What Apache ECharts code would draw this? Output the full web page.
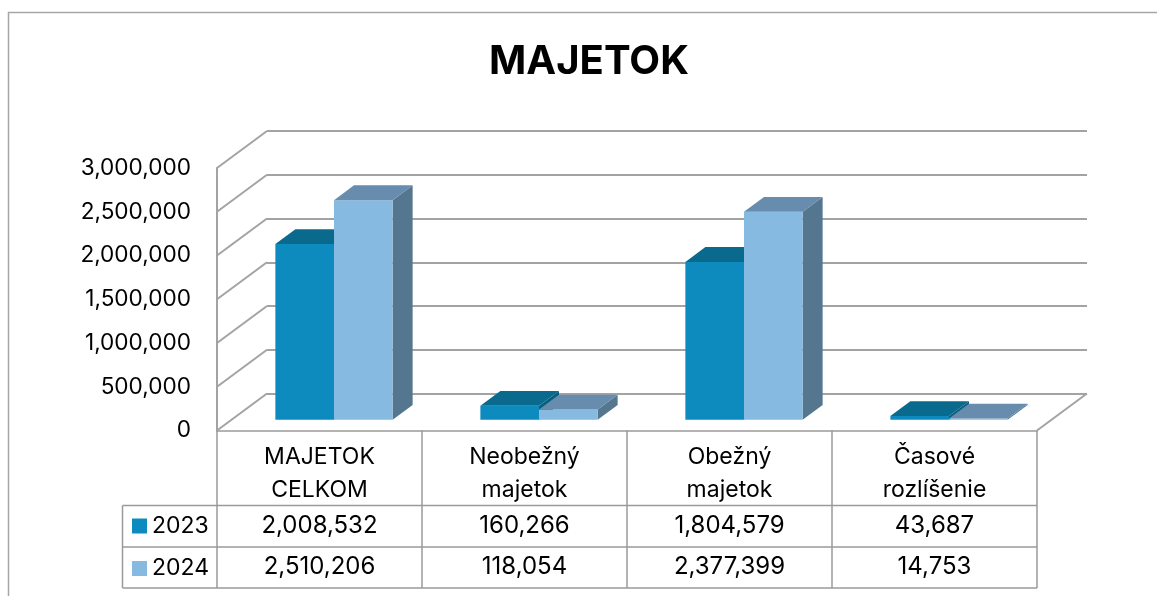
<!DOCTYPE html>
<html>
<head>
<meta charset="utf-8">
<script src="https://cdn.jsdelivr.net/npm/echarts@6/dist/echarts.min.js"></script>
<style>
html,body{margin:0;padding:0;background:#fff;}
#chart{width:1157px;height:596px;}
</style>
</head>
<body>
<div id="chart"></div>
<script>
// data
const categories = ["MAJETOK\nCELKOM", "Neobežný\nmajetok", "Obežný\nmajetok", "Časové\nrozlíšenie"];
const years = ["2023", "2024"];
const values2023 = [2008532, 160266, 1804579, 43687];
const values2024 = [2510206, 118054, 2377399, 14753];
const yTicks = [0, 500000, 1000000, 1500000, 2000000, 2500000, 3000000];

const FONT = "Inter";
const GRID_COLOR = "#a3a3a3";
const TABLE_COLOR = "#9a9a9a";
// perspective shift of the back wall and of the bars
const WALL_DX = 50, WALL_DY = -37;
const BAR_DX = 14.5, BAR_DY = -10.7;
const DEPTH_DX = 20, DEPTH_DY = -14.8;

const palette = [
    {front:"#0e8bbe", top:"#0a6a8e", side:"#06607f"},
    {front:"#87bae0", top:"#678cad", side:"#54778f"}
];

const fmt = v => Number(v).toLocaleString("en-US");

const chart = echarts.init(document.getElementById("chart"));

function barItem(seriesIdx){
    return function(params, api){
        const cat = api.value(0);
        const v = api.value(1);
        const base = api.coord([cat, 0]);
        const top = api.coord([cat, v]);
        const band = api.size([1, 0])[0];
        const bw = band * 0.286;
        const x0 = (seriesIdx === 0 ? base[0] - bw : base[0]) + BAR_DX;
        const x1 = x0 + bw;
        const yb = base[1] + BAR_DY;
        const yt = top[1] + BAR_DY;
        const c = palette[seriesIdx];
        return {
            type:"group",
            children:[
                {type:"polygon", shape:{points:[[x1,yb],[x1,yt],[x1+DEPTH_DX,yt+DEPTH_DY],[x1+DEPTH_DX,yb+DEPTH_DY]]}, style:{fill:c.side}},
                {type:"rect", shape:{x:x0, y:yt, width:bw, height:yb-yt}, style:{fill:c.front}},
                {type:"polygon", shape:{points:[[x0,yt],[x1,yt],[x1+DEPTH_DX,yt+DEPTH_DY],[x0+DEPTH_DX,yt+DEPTH_DY]]}, style:{fill:c.top}}
            ]
        };
    };
}

chart.setOption({
    animation:false,
    textStyle:{fontFamily:FONT},
    legend:{
        orient:"vertical",
        left:132,
        top:514.5,
        padding:0,
        itemWidth:15,
        itemHeight:15,
        itemGap:19.5,
        icon:"rect",
        selectedMode:false,
        textStyle:{fontFamily:FONT, fontSize:23, lineHeight:22, color:"#000"},
        data:years
    },
    grid:[
        {left:217, right:120, top:168, height:262.5, containLabel:false},
        {left:217 + WALL_DX, right:120 - WALL_DX, top:168 + WALL_DY, height:262.5, containLabel:false}
    ],
    xAxis:[
        {
            type:"category",
            gridIndex:0,
            data:categories,
            axisLine:{show:true, lineStyle:{color:TABLE_COLOR, width:1.5}},
            axisTick:{show:true, length:157.5, lineStyle:{color:TABLE_COLOR, width:1.5}},
            axisLabel:{margin:10, fontFamily:FONT, fontSize:23, lineHeight:33, color:"#000"},
            splitLine:{show:false}
        },
        {
            type:"category",
            gridIndex:1,
            data:categories,
            show:false
        }
    ],
    yAxis:[
        {
            type:"value",
            gridIndex:0,
            min:0, max:3000000, interval:500000,
            axisLine:{show:true, lineStyle:{color:GRID_COLOR, width:2}},
            axisTick:{show:false},
            splitLine:{show:false},
            axisLabel:{margin:26, fontFamily:FONT, fontSize:22.6, color:"#000", formatter:fmt}
        },
        {
            type:"value",
            gridIndex:1,
            min:0, max:3000000, interval:500000,
            axisLine:{show:false},
            axisTick:{show:false},
            axisLabel:{show:false},
            splitLine:{show:true, lineStyle:{color:GRID_COLOR, width:2}}
        }
    ],
    graphic:[
        {type:"rect", shape:{x:8.5, y:12.5, width:1200, height:700}, style:{fill:"none", stroke:"#a6a6a6", lineWidth:1.5}, silent:true},
        {type:"text", x:589, y:62, style:{text:"MAJETOK", fontFamily:FONT, fontWeight:"bold", fontSize:40, fill:"#000", textAlign:"center", textVerticalAlign:"middle"}},
        {type:"line", shape:{x1:122.5, y1:505.5, x2:1037, y2:505.5}, style:{stroke:TABLE_COLOR, lineWidth:1.5}},
        {type:"line", shape:{x1:122.5, y1:547, x2:1037, y2:547}, style:{stroke:TABLE_COLOR, lineWidth:1.5}},
        {type:"line", shape:{x1:122.5, y1:588, x2:1037, y2:588}, style:{stroke:TABLE_COLOR, lineWidth:1.5}},
        {type:"line", shape:{x1:122.5, y1:505.5, x2:122.5, y2:588}, style:{stroke:TABLE_COLOR, lineWidth:1.5}}
    ],
    series:[
        {
            // side wall diagonals and the floor edge on the right
            type:"custom",
            name:"walls",
            xAxisIndex:0, yAxisIndex:0,
            silent:true,
            data:yTicks.map(v => [0, v]),
            renderItem(params, api){
                const v = api.value(1);
                const p = api.coord([0, v]);
                const half = api.size([1, 0])[0] / 2;
                const x = p[0] - half;
                const lines = [{type:"line", shape:{x1:x, y1:p[1], x2:x + WALL_DX, y2:p[1] + WALL_DY}, style:{stroke:GRID_COLOR, lineWidth:2}}];
                if(v === 0){
                    const r = api.coord([categories.length - 1, 0]);
                    const xr = r[0] + half;
                    lines.push({type:"line", shape:{x1:xr, y1:r[1], x2:xr + WALL_DX, y2:r[1] + WALL_DY}, style:{stroke:GRID_COLOR, lineWidth:2}});
                }
                return {type:"group", children:lines};
            },
            z:1
        },
        {
            type:"custom",
            name:years[0],
            xAxisIndex:0, yAxisIndex:0,
            itemStyle:{color:palette[0].front},
            data:values2023.map((v, i) => [i, v]),
            renderItem:barItem(0),
            z:3
        },
        {
            type:"custom",
            name:years[1],
            xAxisIndex:0, yAxisIndex:0,
            itemStyle:{color:palette[1].front},
            data:values2024.map((v, i) => [i, v]),
            renderItem:barItem(1),
            z:4
        },
        {
            // values of the data table
            type:"custom",
            name:"table",
            xAxisIndex:0, yAxisIndex:0,
            silent:true,
            data:categories.map((c, i) => [i, values2023[i], values2024[i]]),
            renderItem(params, api){
                const x = api.coord([api.value(0), 0])[0];
                return {
                    type:"group",
                    children:[
                        {type:"text", x:x, y:525.5, style:{text:fmt(api.value(1)), fontFamily:FONT, fontSize:24, fill:"#000", textAlign:"center", textVerticalAlign:"middle"}},
                        {type:"text", x:x, y:567, style:{text:fmt(api.value(2)), fontFamily:FONT, fontSize:24, fill:"#000", textAlign:"center", textVerticalAlign:"middle"}}
                    ]
                };
            },
            z:5
        }
    ]
});

window.addEventListener("resize", () => chart.resize());
</script>
</body>
</html>
